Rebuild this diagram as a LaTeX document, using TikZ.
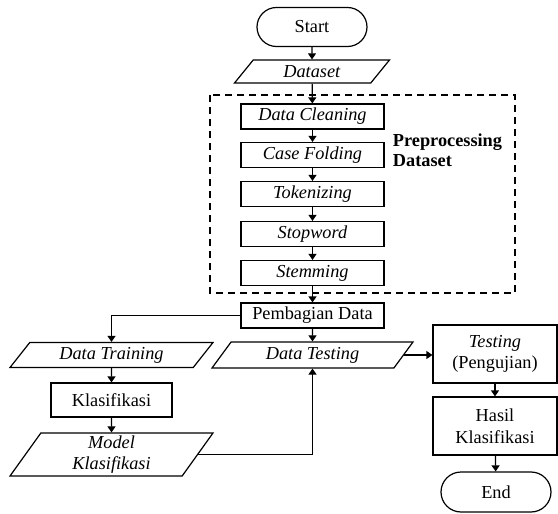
\documentclass[tikz,border=0pt]{standalone}
\usepackage{fontspec}
\setmainfont{Liberation Serif}
\usetikzlibrary{shapes.geometric,shapes.misc,arrows.meta}

\begin{document}
\begin{tikzpicture}[x=1pt, y=-1pt, line width=1.2pt,
        font=\fontsize{18.3}{21.5}\selectfont,
        >={Triangle[length=6pt, width=8pt]},
        terminal/.style={draw, rounded rectangle, minimum width=110pt, minimum height=39pt, inner sep=0pt},
        proses/.style={draw, rectangle, minimum width=143pt, minimum height=25pt, inner sep=0pt, align=center},
        datain/.style={draw, trapezium, trapezium stretches body, minimum width=203pt, minimum height=25pt, inner sep=0pt, align=center},
        kotakputus/.style={dash pattern=on 7pt off 5pt}]
    \useasboundingbox (0,0) rectangle (558,514);

    % Start and input
    \node[terminal] (start) at (312,27) {Start};
    \node[datain, trapezium left angle=33, trapezium right angle=147, minimum width=155pt, minimum height=23pt] (dataset) at (312,71.5) {\textit{Dataset}};

    % Preprocessing block
    \draw[kotakputus] (210,95) rectangle (515,293);
    \node[proses] (cleaning) at (312.5,116.5) {\textit{Data Cleaning}};
    \node[proses] (folding) at (312.5,155) {\textit{Case Folding}};
    \node[proses] (token) at (312.5,194) {\textit{Tokenizing}};
    \node[proses] (stopword) at (312.5,234) {\textit{Stopword}};
    \node[proses] (stemming) at (312.5,273) {\textit{Stemming}};
    \node[anchor=west, align=left, font=\fontsize{18.3}{20}\selectfont\bfseries] (praproses) at (389,150) {Preprocessing\\Dataset};

    % Split of the data
    \node[proses] (pembagian) at (312.5,315.5) {Pembagian Data};
    \node[datain, trapezium left angle=39, trapezium right angle=141] (training) at (111.5,355) {\textit{Data Training}};
    \node[datain, trapezium left angle=40, trapezium right angle=140, minimum width=201pt, minimum height=26pt] (datatest) at (312.5,355) {\textit{Data Testing}};

    % Training branch
    \node[proses, minimum width=121pt, minimum height=34pt] (klasifikasi) at (111.5,400) {Klasifikasi};
    \node[datain, trapezium left angle=51, trapezium right angle=129, minimum height=43pt] (model) at (111.5,454.5) {\textit{Model}\\\textit{Klasifikasi}};

    % Testing branch
    \node[proses, minimum width=124pt, minimum height=58pt] (pengujian) at (495,354) {\textit{Testing}\\(Pengujian)};
    \node[proses, minimum width=124pt, minimum height=58pt] (hasil) at (495,426) {Hasil\\Klasifikasi};
    \node[terminal, minimum height=40pt] (end) at (496,492) {End};

    % Connectors
    \draw[->] (start) -- (dataset);
    \draw[->] (dataset) -- (cleaning);
    \draw[->] (cleaning) -- (folding);
    \draw[->] (folding) -- (token);
    \draw[->] (token) -- (stopword);
    \draw[->] (stopword) -- (stemming);
    \draw[->] (stemming) -- (pembagian);
    \draw[->] (pembagian.west) -| (training.north);
    \draw[->] (pembagian) -- (datatest);
    \draw[->] (training) -- (klasifikasi);
    \draw[->] (klasifikasi) -- (model);
    \draw[->] (model.east) -| (datatest.south);
    \draw[->] (datatest.east) -- (datatest.east -| pengujian.west);
    \draw[->] (pengujian) -- (hasil);
    \draw[->] (hasil) -- (end);
\end{tikzpicture}
\end{document}
